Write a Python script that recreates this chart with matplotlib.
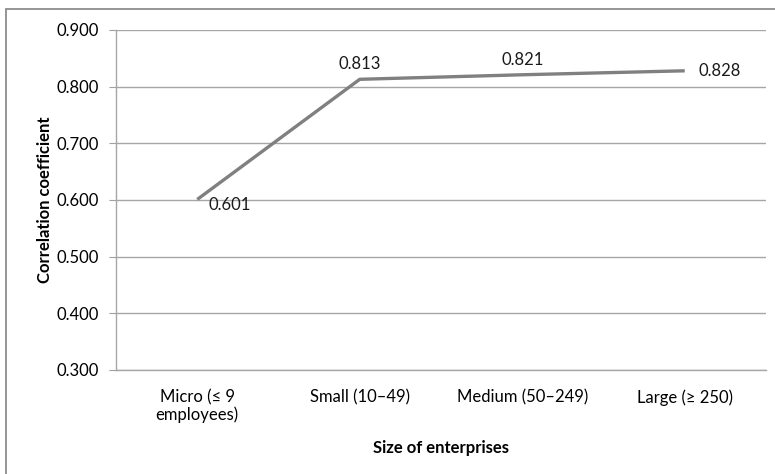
import matplotlib.pyplot as plt
from matplotlib.patches import Rectangle

categories = ["Micro (\u2264 9\nemployees)", "Small (10\u201349)", "Medium (50\u2013249)", "Large (\u2265 250)"]
values = [0.601, 0.813, 0.821, 0.828]
labels = ["0.601", "0.813", "0.821", "0.828"]
yticks = [0.3, 0.4, 0.5, 0.6, 0.7, 0.8, 0.9]

plt.rcParams['font.family'] = ['Lato', 'DejaVu Sans']

fig = plt.figure(figsize=(7.75, 4.74), dpi=100)
ax = fig.add_axes([116/775, 104/474, 650/775, 340/474])

# outer chart border (cropped at right/bottom like the reference)
fig.patches.append(Rectangle((6/775, -0.05), 1.2, (474-9)/474 + 0.05, transform=fig.transFigure,
                             fill=False, edgecolor='#8c8c8c', linewidth=1.3))

x = range(len(categories))
ax.plot(x, values, color='#808080', linewidth=2.4, solid_capstyle='butt', zorder=3)

offsets = [(8, -4, 'left', 'center'), (0, 5, 'center', 'bottom'), (0, 5, 'center', 'bottom'), (10, 0, 'left', 'center')]
for i, (v, t) in enumerate(zip(values, labels)):
    dx, dy, ha, va = offsets[i]
    ax.annotate(t, (i, v), xytext=(dx, dy), textcoords='offset points', ha=ha, va=va, fontsize=12, color='#1a1a1a')

ax.set_xlim(-0.5, 3.5)
ax.set_ylim(0.3, 0.9)
ax.set_yticks(yticks)
ax.set_yticklabels([f"{t:.3f}" for t in yticks], fontsize=12)
ax.set_xticks(list(x))
ax.set_xticklabels(categories, fontsize=12, linespacing=1.1)
ax.tick_params(axis='x', length=0, pad=14)
ax.tick_params(axis='y', length=5, color='#a0a0a0', pad=7)
ax.grid(axis='y', color='#a6a6a6', linewidth=1)
ax.set_axisbelow(True)

for s in ['top', 'right']:
    ax.spines[s].set_visible(False)
for s in ['left', 'bottom']:
    ax.spines[s].set_color('#a6a6a6')
    ax.spines[s].set_linewidth(1)

ax.set_xlabel("Size of enterprises", fontsize=12, fontweight='bold', labelpad=12)
ax.set_ylabel("Correlation coefficient", fontsize=12, fontweight='bold', labelpad=3)

fig.savefig("out.png", dpi=100)
